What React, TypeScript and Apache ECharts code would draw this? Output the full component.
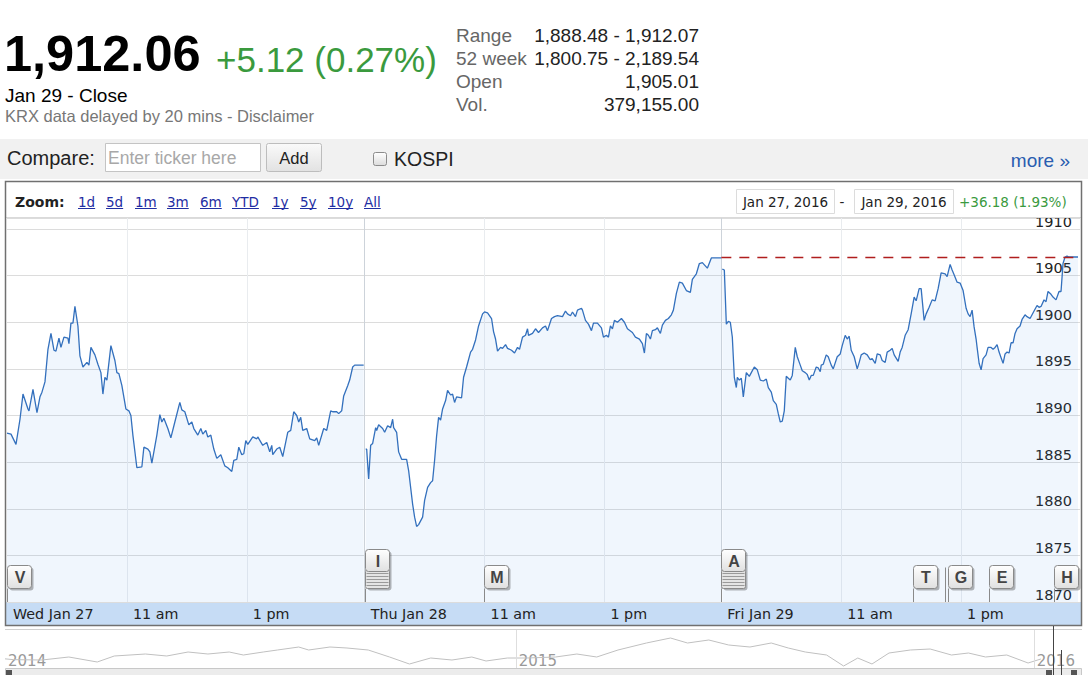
import React, { useEffect, useRef } from 'react';
import * as echarts from 'echarts';

// ---------- data (minute after 09:00, index level) ----------
const day1: number[][] = [[0,1888.1],[4,1888.0],[9,1886.9],[13,1889.6],[16,1892.3],[21,1890.7],[22,1890.5],[26,1892.8],[30,1890.3],[33,1892.0],[35,1892.5],[38,1893.6],[41,1897.1],[44,1898.8],[47,1897.0],[49,1896.9],[52,1898.3],[54,1897.3],[57,1898.4],[61,1898.3],[62,1897.7],[64,1899.9],[66,1899.9],[68,1901.7],[71,1899.6],[73,1896.4],[76,1895.2],[80,1895.7],[82,1895.4],[84,1897.3],[88,1896.5],[91,1895.5],[94,1894.6],[96,1892.3],[98,1894.1],[100,1893.8],[104,1897.5],[108,1895.9],[110,1894.6],[112,1894.5],[115,1893.2],[119,1890.7],[122,1890.5],[124,1890.0],[126,1887.9],[130,1884.4],[135,1884.5],[137,1886.6],[141,1886.4],[143,1886.1],[145,1884.9],[150,1887.9],[153,1890.1],[155,1889.3],[157,1889.7],[161,1888.6],[164,1887.6],[168,1889.3],[173,1891.4],[175,1890.6],[178,1890.4],[182,1889.0],[185,1889.3],[187,1888.6],[191,1887.9],[194,1888.6],[196,1888.0],[199,1888.4],[201,1887.7],[204,1887.9],[207,1886.4],[210,1885.4],[214,1885.8],[218,1884.6],[221,1884.4],[225,1884.0],[227,1885.2],[230,1885.3],[232,1886.6],[235,1885.8],[237,1885.9],[239,1887.3],[241,1886.9],[246,1887.7],[250,1887.5],[251,1887.7],[256,1886.8],[260,1887.1],[263,1886.1],[265,1886.8],[266,1885.8],[270,1886.4],[273,1886.6],[276,1885.6],[281,1888.2],[284,1888.4],[287,1890.4],[290,1890.0],[292,1889.3],[294,1889.8],[296,1888.4],[300,1888.6],[303,1887.5],[308,1887.3],[310,1887.6],[312,1886.8],[317,1888.6],[320,1888.4],[324,1890.5],[326,1890.4],[330,1890.4],[332,1890.2],[335,1890.5],[337,1892.1],[341,1893.2],[343,1893.8],[346,1895.2],[348,1895.4],[357,1895.4]];

const day2: number[][] = [[1,1886.4],[2,1886.4],[4,1883.2],[6,1886.8],[8,1887.0],[11,1888.7],[12,1888.4],[14,1889.0],[18,1888.6],[20,1888.2],[23,1888.9],[26,1888.7],[28,1889.6],[29,1888.7],[32,1888.2],[34,1886.1],[37,1885.3],[42,1885.3],[44,1884.1],[48,1880.5],[50,1879.1],[52,1878.1],[54,1878.3],[58,1879.1],[60,1880.9],[63,1882.3],[66,1882.8],[68,1883.0],[70,1885.2],[72,1887.8],[74,1889.8],[76,1889.5],[78,1890.7],[81,1891.6],[83,1892.7],[86,1892.2],[88,1892.3],[90,1891.4],[92,1892.0],[97,1891.9],[99,1894.1],[102,1895.2],[106,1896.8],[108,1897.1],[111,1898.1],[114,1899.6],[118,1900.9],[120,1901.1],[123,1901.0],[127,1900.4],[129,1899.0],[131,1898.2],[133,1896.9],[136,1897.3],[138,1897.2],[141,1897.6],[143,1897.2],[147,1897.0],[150,1896.7],[153,1897.3],[155,1897.1],[158,1898.4],[161,1898.6],[163,1899.3],[164,1898.6],[168,1898.8],[171,1899.3],[174,1898.9],[178,1899.4],[181,1899.6],[183,1899.1],[187,1900.4],[190,1900.6],[193,1900.7],[198,1900.6],[201,1901.2],[203,1900.9],[206,1900.7],[208,1901.1],[211,1900.6],[213,1901.3],[217,1901.5],[218,1901.3],[221,1900.2],[224,1899.8],[227,1899.1],[229,1899.9],[233,1899.9],[237,1899.4],[239,1898.4],[242,1898.6],[244,1898.4],[246,1899.6],[248,1899.3],[250,1900.2],[253,1900.0],[257,1900.4],[260,1900.0],[263,1899.3],[268,1898.9],[271,1898.4],[275,1898.2],[278,1897.7],[280,1896.7],[282,1898.8],[284,1898.6],[286,1898.2],[288,1899.1],[291,1899.2],[293,1899.4],[296,1898.8],[298,1899.7],[301,1900.2],[304,1900.4],[307,1900.8],[309,1901.3],[312,1903.1],[315,1904.3],[318,1904.2],[322,1903.4],[326,1903.2],[328,1904.6],[332,1905.2],[335,1906.3],[338,1906.4],[343,1905.8],[347,1906.9],[357,1906.9]];

const day3: number[][] = [[1,1905.7],[3,1905.6],[5,1899.8],[7,1900.1],[9,1900.0],[11,1898.4],[13,1894.1],[15,1893.0],[16,1894.1],[18,1893.8],[20,1894.0],[22,1892.0],[25,1894.6],[28,1894.2],[30,1894.6],[33,1895.2],[36,1894.9],[39,1893.8],[42,1893.7],[45,1893.9],[47,1893.0],[50,1892.5],[52,1891.6],[55,1891.2],[57,1890.2],[59,1889.3],[61,1889.4],[63,1890.5],[65,1894.2],[67,1894.0],[69,1893.8],[71,1894.3],[74,1897.3],[76,1896.3],[79,1895.4],[81,1894.8],[84,1894.6],[86,1894.4],[88,1893.8],[90,1894.3],[92,1894.3],[95,1895.2],[97,1895.1],[99,1894.7],[100,1895.4],[102,1895.5],[105,1896.5],[107,1896.3],[110,1895.4],[112,1895.0],[116,1896.3],[119,1896.6],[121,1897.5],[124,1898.6],[126,1898.2],[128,1898.5],[130,1897.0],[133,1896.3],[136,1895.0],[138,1895.7],[140,1896.5],[143,1896.7],[146,1896.5],[149,1896.0],[151,1896.1],[154,1895.6],[156,1896.6],[159,1896.5],[161,1895.9],[164,1895.7],[166,1896.8],[169,1897.0],[171,1897.2],[173,1896.5],[177,1895.8],[179,1896.8],[181,1897.3],[184,1898.6],[187,1899.2],[190,1900.9],[193,1902.7],[195,1902.3],[198,1903.6],[200,1903.6],[203,1900.2],[205,1900.9],[208,1901.6],[211,1902.4],[214,1902.3],[217,1903.6],[220,1905.3],[224,1905.2],[226,1904.9],[229,1906.2],[231,1905.6],[233,1905.1],[236,1904.3],[239,1904.2],[242,1903.4],[245,1901.5],[247,1900.9],[249,1900.6],[251,1901.3],[253,1899.5],[255,1898.2],[256,1897.3],[258,1895.6],[260,1894.9],[262,1896.1],[265,1896.5],[267,1897.3],[270,1897.3],[272,1897.1],[274,1897.3],[276,1897.6],[278,1896.8],[280,1896.2],[282,1895.6],[284,1896.6],[286,1896.8],[288,1896.7],[290,1897.8],[292,1897.8],[294,1898.8],[296,1899.3],[299,1899.6],[301,1900.3],[304,1900.8],[306,1900.6],[309,1900.4],[311,1900.8],[313,1901.2],[316,1901.8],[318,1901.6],[320,1901.7],[323,1902.4],[325,1902.2],[327,1903.3],[330,1903.0],[332,1902.7],[335,1902.4],[338,1903.3],[340,1903.3],[342,1906.3],[344,1907.0],[346,1907.1],[348,1907.0],[357,1907.0]];

const dayStarts = [0, 358, 715];
const dayEnd = 1074;
const xTickMinutes = [0, 120, 240];
const xTickLabels = [
  ['Wed Jan 27', '11 am', '1 pm'],
  ['Thu Jan 28', '11 am', '1 pm'],
  ['Fri Jan 29', '11 am', '1 pm'],
];
const yMin = 1870;
const yMax = 1911.18;
const yStep = 5;
const previousClose = 1906.94;

const navDates = ['2014-01-06','2014-01-12','2014-02-01','2014-02-20','2014-03-12','2014-03-24','2014-04-15','2014-04-30','2014-05-15','2014-05-29','2014-06-13','2014-06-23','2014-07-07','2014-07-17','2014-08-01','2014-08-08','2014-08-23','2014-09-04','2014-09-19','2014-10-04','2014-10-18','2014-11-02','2014-11-17','2014-12-01','2014-12-11','2014-12-26','2015-01-09','2015-01-29','2015-02-13','2015-02-27','2015-03-14','2015-04-03','2015-04-20','2015-05-02','2015-05-17','2015-05-31','2015-06-15','2015-06-30','2015-07-12','2015-07-24','2015-08-08','2015-08-20','2015-08-30','2015-09-09','2015-09-21','2015-10-06','2015-10-20','2015-11-04','2015-11-16','2015-11-28','2015-12-13','2015-12-28','2016-01-06'];
const navValues = [1920,1910,1906,1942,1882,1954,1978,1954,2002,1978,2002,1966,2002,2026,2062,2026,2062,2050,2026,1942,1858,1930,1906,1942,1894,1930,1930,1942,1978,1942,2026,2110,2170,2110,2146,2086,2062,2110,2050,2002,1966,1834,1930,1858,1990,2026,2038,1966,1990,1942,1966,1870,1918];
const navYears = ['2014', '2015', '2016'];

const headerPrice = '1,912.06';
const headerChange = '+5.12 (0.27%)';
const headerDate = 'Jan 29 - Close';
const headerNote = 'KRX data delayed by 20 mins - Disclaimer';
const statLabels = ['Range', '52 week', 'Open', 'Vol.'];
const statValues = ['1,888.48 - 1,912.07', '1,800.75 - 2,189.54', '1,905.01', '379,155.00'];
const zoomLinks = ['1d', '5d', '1m', '3m', '6m', 'YTD', '1y', '5y', '10y', 'All'];
const rangeFrom = 'Jan 27, 2016';
const rangeTo = 'Jan 29, 2016';
const rangeChange = '+36.18 (1.93%)';

const flags = [
  { letter: 'V', day: 0, minute: 0, stacked: false },
  { letter: 'I', day: 1, minute: 0, stacked: true },
  { letter: 'M', day: 1, minute: 119, stacked: false },
  { letter: 'A', day: 2, minute: 0, stacked: true },
  { letter: 'T', day: 2, minute: 192, stacked: false },
  { letter: 'G', day: 2, minute: 227, stacked: false, double: true },
  { letter: 'E', day: 2, minute: 268, stacked: false },
  { letter: 'H', day: 2, minute: 333, stacked: false },
];

// ---------- helpers ----------
const ARIAL = '"Liberation Sans", Arial, sans-serif';
const VERDANA = '"DejaVu Sans", Verdana, sans-serif';
const GREEN = '#3a9a3e';
const LINE = '#3370bd';
const CLOSE_RED = '#b01e1e';
const LINK_X = [78, 106, 135, 167, 200, 232, 272, 300, 328, 364];

const dayNumber = (s: string) => {
  const [y, m, d] = s.split('-').map(Number);
  return (Date.UTC(y, m - 1, d) - Date.UTC(2014, 0, 1)) / 86400000;
};

const measure = (text: string, font: string) => {
  const c = document.createElement('canvas').getContext('2d');
  if (!c) return text.length * 8;
  c.font = font;
  return c.measureText(text).width;
};

const txt = (text: string, x: number, y: number, o: any = {}) => ({
  type: 'text', x, y, z: 30, silent: true,
  style: {
    text, fill: o.fill || '#222', fontSize: o.size || 14, fontFamily: o.family || ARIAL,
    fontWeight: o.weight || 'normal', align: o.align || 'left', verticalAlign: 'middle',
  },
});
const rect = (x: number, y: number, w: number, h: number, style: any, z = 25, r = 0) => ({
  type: 'rect', z, silent: true, shape: { x, y, width: w, height: h, r }, style,
});
const line = (x1: number, y1: number, x2: number, y2: number, stroke: string, z = 26, w = 1) => ({
  type: 'line', z, silent: true, shape: { x1, y1, x2, y2 }, style: { stroke, lineWidth: w },
});

const toXY = (day: number, pts: number[][]) => pts.map(([m, v]) => [dayStarts[day] + m, v]);

export default function App() {
  const ref = useRef<HTMLDivElement>(null);
  useEffect(() => {
    if (!ref.current) return;
    const chart = echarts.init(ref.current, null, { renderer: 'svg' });

    const tickValues: number[] = [];
    const tickText: Record<number, string> = {};
    dayStarts.forEach((s, d) => xTickMinutes.forEach((m, i) => {
      tickValues.push(s + m);
      tickText[s + m] = xTickLabels[d][i];
    }));

    const vLines: any[] = [];
    dayStarts.forEach((s, d) => {
      if (d > 0) vLines.push({ xAxis: s, lineStyle: { color: '#cdd3da' } });
      xTickMinutes.slice(1).forEach((m) => vLines.push({ xAxis: s + m, lineStyle: { color: '#e9ecef' } }));
    });

    const daySeries = (day: number, pts: number[][], extra: any = {}) => ({
      type: 'line', xAxisIndex: 0, yAxisIndex: 0, z: 3,
      data: toXY(day, pts), showSymbol: false, symbol: 'none',
      lineStyle: { color: LINE, width: 1.3 },
      areaStyle: { color: 'rgba(90,160,235,0.13)', origin: 'start' },
      silent: true, ...extra,
    });

    const navDays = navDates.map(dayNumber);

    chart.setOption({
      animation: false,
      grid: [
        { left: 7, right: 8, top: 218, bottom: 73 },
        { left: 5, right: 6, top: 630, bottom: 5 },
      ],
      xAxis: [
        {
          type: 'value', gridIndex: 0, min: 0, max: dayEnd,
          axisLine: { show: false }, axisTick: { show: false }, splitLine: { show: false },
          axisLabel: {
            customValues: tickValues, formatter: (v: number) => tickText[v] ?? '',
            align: 'left', padding: [0, 0, 0, 6], margin: 5, color: '#222',
            fontSize: 14.3, fontFamily: VERDANA, showMinLabel: true, hideOverlap: false,
          },
        },
        {
          type: 'value', gridIndex: 1, min: 5, max: 764,
          axisLine: { show: false }, axisTick: { show: false }, splitLine: { show: false },
          axisLabel: {
            customValues: [5, 365, 730], formatter: (v: number) => navYears[v < 365 ? 0 : v < 730 ? 1 : 2],
            inside: true, align: 'left', padding: [0, 0, 0, 3], margin: 2, color: '#999',
            fontSize: 15, fontFamily: VERDANA, showMinLabel: true,
          },
        },
      ],
      yAxis: [
        {
          type: 'value', gridIndex: 0, position: 'right', min: yMin, max: yMax, interval: yStep,
          axisLine: { show: false }, axisTick: { show: false },
          splitLine: { show: true, lineStyle: { color: '#dcdcdc' } },
          axisLabel: {
            inside: true, margin: 8, verticalAlign: 'bottom', color: '#222', fontSize: 14.5,
            fontFamily: VERDANA, showMaxLabel: false, lineHeight: 15,
            formatter: (v: number) => String(Math.round(v)),
          },
        },
        {
          type: 'value', gridIndex: 1, min: 1786, max: 2266, show: false,
        },
      ],
      series: [
        daySeries(0, day1, {
          markLine: { silent: true, symbol: 'none', label: { show: false }, lineStyle: { type: 'solid', width: 1 }, data: vLines, z: 2 },
        }),
        daySeries(1, day2),
        daySeries(2, day3, {
          markLine: {
            silent: true, symbol: 'none', label: { show: false },
            lineStyle: { color: CLOSE_RED, type: [10, 8], width: 1.3, opacity: 1 },
            data: [[
              { coord: [dayStarts[2], previousClose], lineStyle: { color: CLOSE_RED, type: [10, 8], width: 1.3 } },
              { coord: [dayEnd, previousClose] },
            ]],
          },
        }),
        {
          type: 'line', xAxisIndex: 1, yAxisIndex: 1, silent: true,
          data: navDays.map((d, i) => [d, navValues[i]]), showSymbol: false, symbol: 'none',
          lineStyle: { color: '#c0c0c0', width: 1 },
          markLine: {
            silent: true, symbol: 'none', label: { show: false },
            lineStyle: { color: '#dedede', type: 'solid', width: 1 },
            data: [{ xAxis: 365 }, { xAxis: 730 }],
          },
        },
      ],
    });

    // ---------- graphics ----------
    const g: any[] = [];
    // header
    g.push(txt(headerPrice, 4, 53, { size: 50.5, weight: 'bold', fill: '#000' }));
    g.push(txt(headerChange, 216, 59, { size: 35, fill: GREEN }));
    g.push(txt(headerDate, 5, 95, { size: 19, fill: '#000' }));
    g.push(txt(headerNote, 5, 116, { size: 16.5, fill: '#777' }));
    const rowsY = [35, 58, 81.5, 104.5];
    statLabels.forEach((l, i) => {
      g.push(txt(l, 456, rowsY[i], { size: 19, fill: '#666' }));
      g.push(txt(statValues[i], 699, rowsY[i], { size: 19, fill: '#222', align: 'right' }));
    });
    // compare row
    g.push(rect(0, 139, 1088, 40, { fill: '#f1f1f1' }, 1));
    g.push(txt('Compare:', 7, 158, { size: 20, fill: '#222' }));
    g.push(rect(105.5, 143.5, 155, 28, { fill: '#fff', stroke: '#c4c4c4', lineWidth: 1 }));
    g.push(txt('Enter ticker here', 108, 157.5, { size: 17.5, fill: '#a8a8a8' }));
    g.push(rect(266.5, 143.5, 55, 28, {
      fill: new echarts.graphic.LinearGradient(0, 0, 0, 1, [{ offset: 0, color: '#fafafa' }, { offset: 1, color: '#e2e2e2' }]),
      stroke: '#bdbdbd', lineWidth: 1,
    }, 25, 2));
    g.push(txt('Add', 294, 157.5, { size: 16.5, fill: '#222', align: 'center' }));
    g.push(rect(373.5, 152.5, 13, 13, {
      fill: new echarts.graphic.LinearGradient(0, 0, 0, 1, [{ offset: 0, color: '#ffffff' }, { offset: 1, color: '#dcdcdc' }]),
      stroke: '#8c8c8c', lineWidth: 1,
    }, 25, 2));
    g.push(txt('KOSPI', 394, 159, { size: 19.5, fill: '#222' }));
    g.push(txt('more \u00bb', 1070, 160, { size: 19, fill: '#2a5db0', align: 'right' }));

    // chart panel
    g.push(rect(5.5, 181.5, 1076, 444, { fill: 'none', stroke: '#707070', lineWidth: 1.5 }, 40));
    g.push(line(6, 217.5, 1081, 217.5, '#dadada', 5));
    g.push(txt('Zoom:', 15, 201.5, { size: 14, weight: 'bold', family: VERDANA, fill: '#222' }));
    const linkFont = `13.5px ${VERDANA}`;
    zoomLinks.forEach((t, i) => {
      const lx = LINK_X[i];
      const w = measure(t, linkFont);
      g.push(txt(t, lx, 201.5, { size: 13.5, family: VERDANA, fill: '#1f2ea3' }));
      g.push(line(lx, 208.5, lx + w, 208.5, '#1f2ea3'));
    });
    g.push(rect(736.5, 189.5, 98, 24, { fill: '#fff', stroke: '#dcdcdc', lineWidth: 1 }));
    g.push(txt(rangeFrom, 785.5, 201.5, { size: 13.5, family: VERDANA, fill: '#222', align: 'center' }));
    g.push(txt('-', 842, 201.5, { size: 13.5, family: VERDANA, fill: '#222', align: 'center' }));
    g.push(rect(854.5, 189.5, 99, 24, { fill: '#fff', stroke: '#dcdcdc', lineWidth: 1 }));
    g.push(txt(rangeTo, 904, 201.5, { size: 13.5, family: VERDANA, fill: '#222', align: 'center' }));
    g.push(txt(rangeChange, 959, 201.5, { size: 13.5, family: VERDANA, fill: GREEN }));

    // x-axis band (behind labels)
    g.push(rect(6, 602, 1075, 23, { fill: '#c6dcf5' }, -1));

    // flags
    flags.forEach((f) => {
      const [px] = chart.convertToPixel({ gridIndex: 0 }, [dayStarts[f.day] + f.minute, yMin]) as number[];
      const x = Math.round(px) + 0.5;
      const w = 24;
      const top = f.stacked ? 549.5 : 565.5;
      const h = f.stacked ? 22 : 23;
      const bottom = f.stacked ? 588.5 : top + h;
      g.push(line(x, bottom, x, 602, '#8a8a8a', 45));
      if ((f as any).double) g.push(line(x - 3, top + 2, x - 3, 602, '#8a8a8a', 45));
      g.push(rect(x + 2, top + 2, w, bottom - top, { fill: 'rgba(0,0,0,0.28)' }, 45, 3));
      if (f.stacked) {
        g.push(rect(x, top + h - 2, w, bottom - top - h + 2, { fill: '#e4e4e4', stroke: '#8a8a8a', lineWidth: 1 }, 46, 2));
        for (let k = 0; k < 5; k++) {
          const yy = top + h + 2 + k * 3;
          g.push(line(x + 1, yy, x + w - 1, yy, '#9a9a9a', 47));
        }
      }
      g.push(rect(x, top, w, h, {
        fill: new echarts.graphic.LinearGradient(0, 0, 0, 1, [{ offset: 0, color: '#ffffff' }, { offset: 1, color: '#e0e0e0' }]),
        stroke: '#8a8a8a', lineWidth: 1,
      }, 48, 3));
      g.push({ ...txt(f.letter, x + w / 2 + 0.5, top + h / 2 + 0.5, { size: 16, weight: 'bold', family: ARIAL, fill: '#444', align: 'center' }), z: 49 });
    });

    // navigator
    g.push(line(5, 629.5, 1082, 629.5, '#d0d0d0', 5));
    g.push(rect(5.5, 668.5, 1076, 8, { fill: '#ececec', stroke: '#c8c8c8', lineWidth: 1 }, 5));
    g.push(rect(6, 670, 6, 6, { fill: '#555' }, 6));
    g.push(rect(1046, 670, 6, 6, { fill: '#555' }, 6));
    g.push(rect(1071, 670, 6, 6, { fill: '#555' }, 6));
    g.push(line(1053.5, 626, 1053.5, 675, '#444', 50));
    g.push(line(1061.5, 650, 1061.5, 675, '#444', 50));

    chart.setOption({ graphic: { elements: g } });

    return () => chart.dispose();
  }, []);

  return <div ref={ref} style={{ position: 'absolute', left: 0, top: 0, width: 1088, height: 675, background: '#fff' }} />;
}
